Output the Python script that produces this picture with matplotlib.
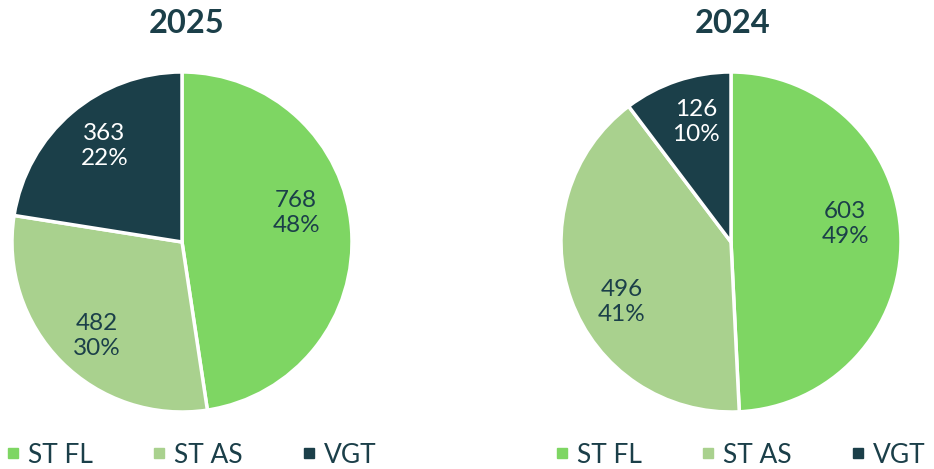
import numpy as np
import matplotlib
matplotlib.use("Agg")
import matplotlib.pyplot as plt
from matplotlib.lines import Line2D

plt.rcParams['font.family'] = ['Lato', 'DejaVu Sans']

categories = ["ST FL", "ST AS", "VGT"]
years = ["2025", "2024"]
values_2025 = [768, 482, 363]
values_2024 = [603, 496, 126]
pct_2025 = [48, 30, 22]
pct_2024 = [49, 41, 10]

colors = ["#7ED663", "#A9D18E", "#1B3F49"]
label_colors = ["#1B3F49", "#1B3F49", "#FFFFFF"]
dark = "#1B3F49"

# fine placement nudges for the data labels (pixels, x right / y up)
label_nudge = [[(-8, 20), (2, -8), (2, 3)],
               [(-8, 15), (6, -18), (4, 4)]]
title_x = [187 / 934, 733 / 934]

fig = plt.figure(figsize=(9.34, 4.69), dpi=100)

rects = [[12 / 934, 57 / 469, 340 / 934, 340 / 469],
         [561 / 934, 57 / 469, 340 / 934, 340 / 469]]

for rect, tx, year, vals, pcts, nudges in zip(rects, title_x, years,
                                              [values_2025, values_2024],
                                              [pct_2025, pct_2024], label_nudge):
    ax = fig.add_axes(rect)
    wedges, _ = ax.pie(vals, colors=colors, startangle=90, counterclock=False,
                       wedgeprops=dict(edgecolor="white", linewidth=2.5))
    for w, v, p, tc, nd in zip(wedges, vals, pcts, label_colors, nudges):
        ang = np.deg2rad((w.theta1 + w.theta2) / 2)
        r = 0.72
        ax.annotate(f"{v}\n{p}%", xy=(r * np.cos(ang), r * np.sin(ang)),
                    xytext=nd, textcoords="offset pixels",
                    ha="center", va="center", fontsize=17.5, color=tc, linespacing=1.25)
    ax.set_xlim(-1, 1)
    ax.set_ylim(-1, 1)
    ax.set_aspect("equal")
    ax.axis("off")
    fig.text(tx, 1 - 23.5 / 469, year, ha="center", va="center",
             fontsize=23.5, fontweight="bold", color=dark)

    handles = [Line2D([], [], marker="s", linestyle="none", markersize=7,
                      markerfacecolor=c, markeredgecolor=c) for c in colors]
    fig.legend(handles, categories, loc="center left",
               bbox_to_anchor=(rect[0] - 6 / 934, 1 - 455 / 469), ncol=3,
               frameon=False, fontsize=19, labelcolor=dark, handlelength=0.5,
               handletextpad=0.33, columnspacing=2.25, borderpad=0, borderaxespad=0)

fig.savefig("out.png", dpi=100, facecolor="white")
